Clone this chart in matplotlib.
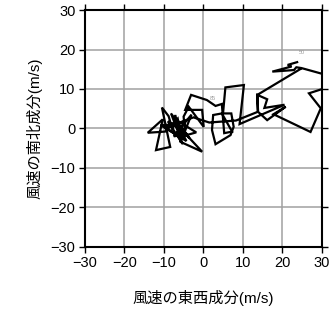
import matplotlib

matplotlib.use("Agg")
import matplotlib.pyplot as plt

# hodograph points (east-west, north-south), m/s
u_wind = [
    23.8, 21.4, 22.4, 17.5, 23.0, 23.6, 24.9, 35.0, 29.9, 26.8,
    29.8, 27.2, 17.8, 20.9, 16.2, 13.9, 13.7, 16.2, 15.5, 20.6,
    9.2, 10.3, 5.6, 5.0, 7.1, 7.7, 6.9, 3.1, 2.2, 2.5,
    4.7, 7.3, 5.3, 4.7, 3.1, 0.9, -3.1, -4.6, -0.3, 0.1,
    -3.7, -5.0, -4.6, -0.3, -5.8, -7.1, -7.8, -8.8, -10.5, -8.4,
    -12.0, -10.3, -14.1, -9.7, -6.5, -5.5, -3.0, -7.5, -4.0, -9.0,
    -5.2, -8.2, -3.5, -6.8, -10.8, -4.3, -7.0, -1.8, -6.0, -9.5,
    -2.5, 1.5, 8.3, 13.8, 13.7, 24.7,
]
v_wind = [
    16.8, 16.1, 15.7, 14.4, 14.8, 15.5, 15.3, 12.5, 9.9, 8.9,
    5.1, -0.9, 3.6, 5.5, 2.1, 4.2, 8.5, 7.4, 5.2, 6.0,
    1.1, 11.0, 10.4, 3.8, 3.8, 0.4, -1.7, -4.0, -0.4, 3.4,
    3.8, -0.8, -1.2, 6.2, 5.7, 7.2, 8.5, 4.7, 4.7, 0.4,
    5.5, 3.0, -1.3, -5.9, -3.4, 3.4, -0.4, 3.1, 5.3, -4.7,
    -5.5, 2.3, -1.1, -0.8, 2.5, -2.8, 3.5, -2.0, -1.5, 1.8,
    -4.0, 3.8, -2.5, 1.0, 0.8, -3.2, 2.2, -1.0, -2.2, 0.2,
    2.8, 1.5, 2.0, 4.2, 8.5, 15.1,
]
level_labels = ["50", "85"]
level_u = [25.1, 2.5]
level_v = [19.2, 7.6]
ticks = [-30, -20, -10, 0, 10, 20, 30]

plt.rcParams["font.family"] = ["Liberation Sans", "Noto Sans CJK JP", "DejaVu Sans"]
fig = plt.figure(figsize=(3.31, 3.18), dpi=100)
ax = fig.add_axes([0.257, 0.224, 0.7145, 0.7443])

ax.plot(u_wind, v_wind, color="black", lw=1.6, solid_joinstyle="miter", zorder=3)
for lab, x, y in zip(level_labels, level_u, level_v):
    ax.text(x, y, lab, fontsize=4, color="#999999", ha="center", va="center", zorder=4)

ax.set_xlim(-30, 30)
ax.set_ylim(-30, 30)
ax.set_xticks(ticks, [f"{t:d}".replace("-", "\u2212") for t in ticks])
ax.set_yticks(ticks, [f"{t:d}".replace("-", "\u2212") for t in ticks])
ax.grid(True, color="#a0a0a0", lw=1.1, zorder=1)
ax.tick_params(direction="out", length=4, width=1, top=True, right=True,
               labelsize=10.5, pad=3)
for spine in ax.spines.values():
    spine.set_linewidth(1.5)

ax.set_xlabel("風速の東西成分(m/s)", fontsize=11, labelpad=14)
ax.set_ylabel("風速の南北成分(m/s)", fontsize=11, labelpad=6)

fig.savefig("out.png", dpi=100)
